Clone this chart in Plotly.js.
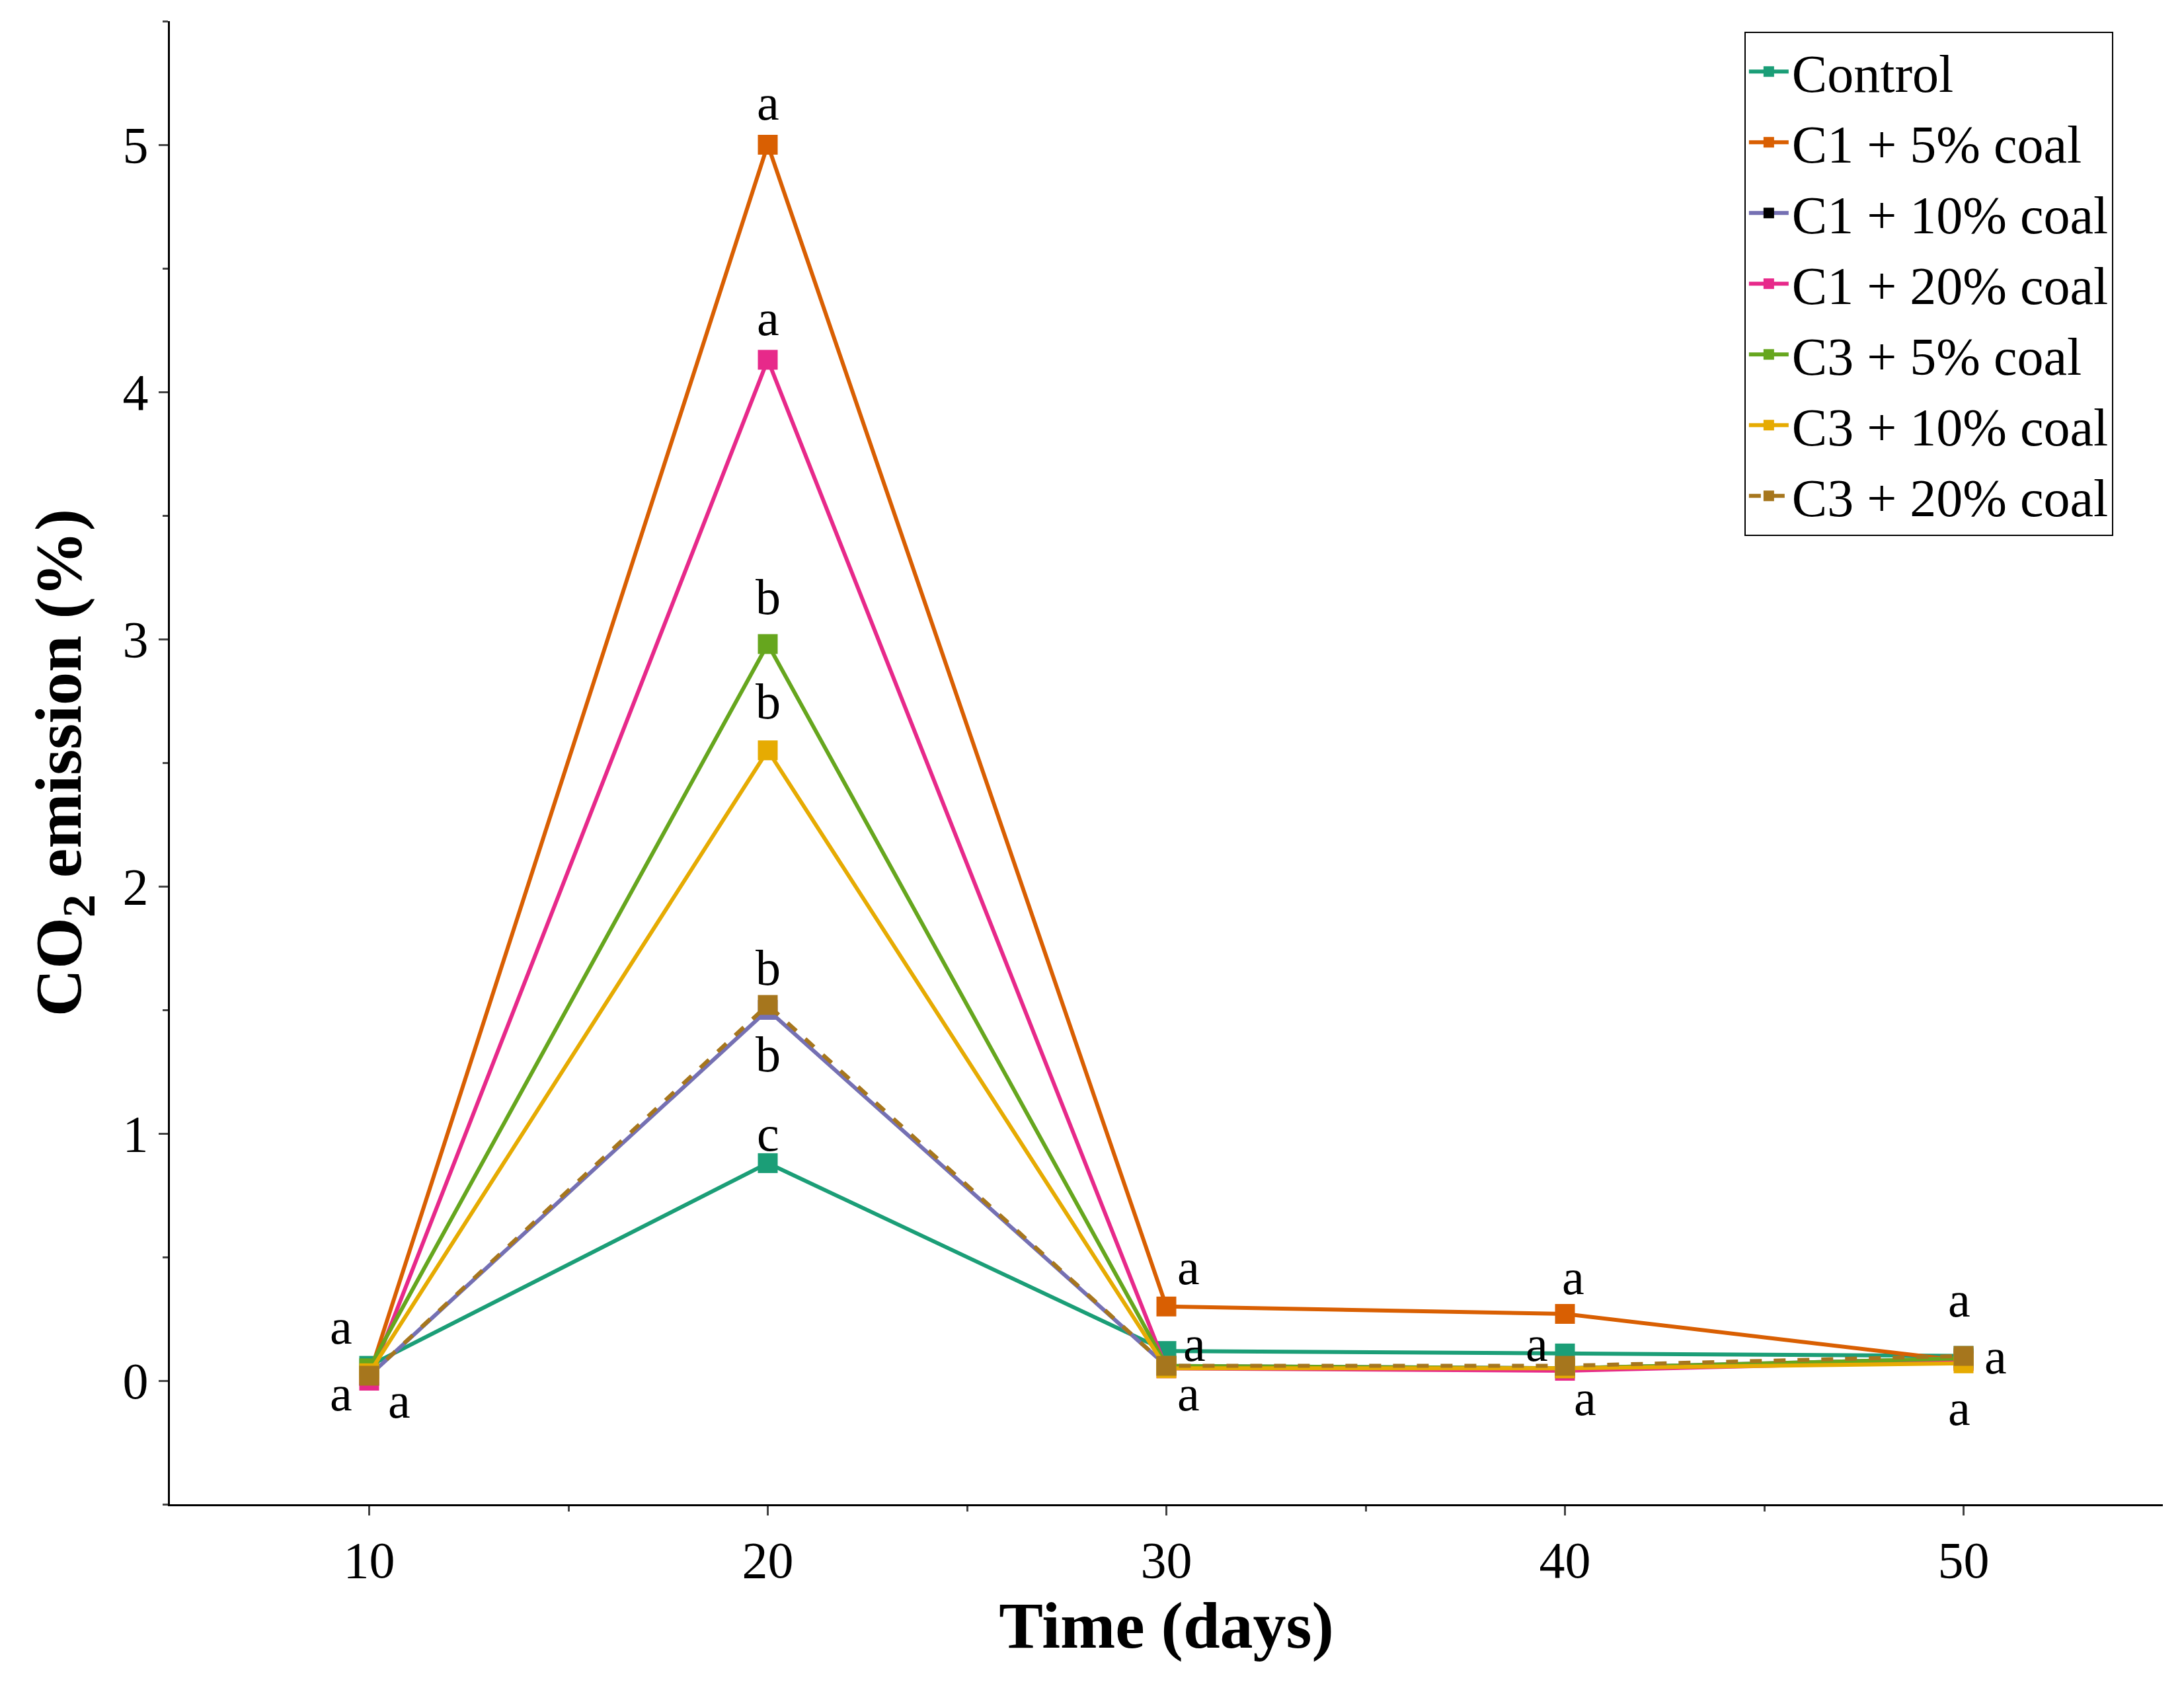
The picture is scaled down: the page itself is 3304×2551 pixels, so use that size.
<!DOCTYPE html>
<html>
<head>
<meta charset="utf-8">
<script src="https://cdn.plot.ly/plotly-3.0.1.min.js"></script>
<style>html,body{margin:0;padding:0;background:#fff}</style>
</head>
<body>
<div id="chart" style="width:3304px;height:2551px"></div>
<script>
const days = [10, 20, 30, 40, 50];

const seriesNames = ['Control', 'C1 + 5% coal', 'C1 + 10% coal', 'C1 + 20% coal',
  'C3 + 5% coal', 'C3 + 10% coal', 'C3 + 20% coal'];
const control = [0.06, 0.88, 0.12, 0.11, 0.10];
const c1_5 = [0.02, 5.00, 0.30, 0.27, 0.08];
const c1_10 = [0.02, 1.50, 0.06, 0.05, 0.09];
const c1_20 = [0.00, 4.13, 0.05, 0.04, 0.08];
const c3_5 = [0.05, 2.98, 0.06, 0.05, 0.09];
const c3_10 = [0.03, 2.55, 0.05, 0.05, 0.07];
const c3_20 = [0.02, 1.52, 0.06, 0.06, 0.10];

const seriesColors = ['#1b9e77', '#d95f02', '#7570b3', '#e7298a', '#66a61e', '#e6ab02', '#a6761d'];

// significance letters
const letterX = [9.3, 9.3, 10.75, 20, 20, 20, 20, 20, 20, 20, 30.55, 30.7, 30.55, 40.2, 39.3, 40.5, 49.9, 50.8, 49.9];
const letterY = [0.22, -0.05, -0.08, 5.17, 4.3, 3.17, 2.75, 1.67, 1.32, 1.0, 0.46, 0.15, -0.05, 0.42, 0.15, -0.07, 0.33, 0.1, -0.11];
const letterText = ['a', 'a', 'a', 'a', 'a', 'b', 'b', 'b', 'b', 'c', 'a', 'a', 'a', 'a', 'a', 'a', 'a', 'a', 'a'];

const FONT = 'Liberation Serif, Times New Roman, serif';
const allY = [control, c1_5, c1_10, c1_20, c3_5, c3_10, c3_20];

const traces = allY.map((ys, i) => ({
  x: days,
  y: ys,
  name: seriesNames[i],
  type: 'scatter',
  mode: 'lines+markers',
  line: { color: seriesColors[i], width: 6, dash: i === 6 ? 'dash' : 'solid' },
  marker: { color: seriesColors[i], symbol: 'square', size: 30 }
}));

const annotations = letterText.map((t, i) => ({
  x: letterX[i], y: letterY[i], text: t, showarrow: false,
  font: { family: FONT, size: 76, color: '#000' }
}));

const layout = {
  paper_bgcolor: '#fff',
  plot_bgcolor: '#fff',
  font: { family: FONT, color: '#000', size: 76 },
  margin: { l: 257, r: 32, t: 32, b: 275 },
  showlegend: true,
  legend: {
    x: 0.79, y: 0.993, xanchor: 'left', yanchor: 'top',
    bordercolor: '#000', borderwidth: 2, bgcolor: '#fff',
    font: { family: FONT, size: 80 }, tracegroupgap: 0, itemwidth: 60
  },
  xaxis: {
    range: [5, 55], tickvals: days, ticks: 'outside', ticklen: 14, tickwidth: 3,
    showline: true, linewidth: 3, linecolor: '#000', showgrid: false, zeroline: false,
    minor: { tickvals: [15, 25, 35, 45], ticks: 'outside', ticklen: 8, tickwidth: 3 },
    tickfont: { size: 78 },
    title: { text: '<b>Time (days)</b>', font: { size: 100 }, standoff: 10 }
  },
  yaxis: {
    range: [-0.5, 5.5], tickvals: [0, 1, 2, 3, 4, 5], ticks: 'outside', ticklen: 14, tickwidth: 3,
    showline: true, linewidth: 3, linecolor: '#000', showgrid: false, zeroline: false,
    minor: { dtick: 0.5, ticks: 'outside', ticklen: 8, tickwidth: 3 },
    tickfont: { size: 78 },
    title: { text: '<b>CO<sub>2</sub> emission (%)</b>', font: { size: 100 }, standoff: 30 }
  },
  annotations: annotations
};

Plotly.newPlot('chart', traces, layout, { displayModeBar: false }).then(() => {
  // legend marker for C1 + 10% coal is black in the reference
  const items = document.querySelectorAll('.legend .traces');
  if (items[2]) items[2].querySelectorAll('.legendpoints path, .scatterpts path').forEach(p => p.style.fill = '#000');
});
</script>
</body>
</html>
